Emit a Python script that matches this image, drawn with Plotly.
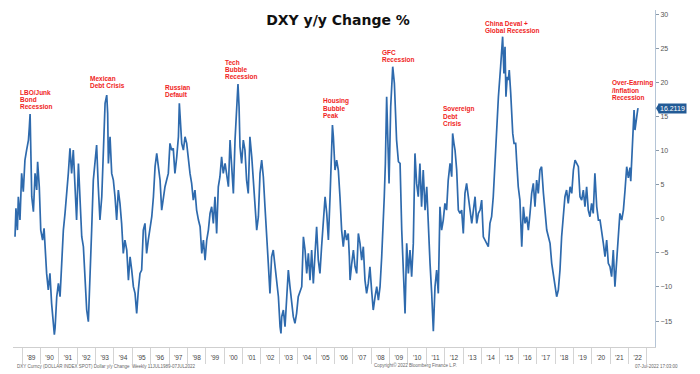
import plotly.graph_objects as go

# ---- data (decimal year, DXY y/y % change) ----
years = [
 1988.62,1988.67,1988.75,1988.80,1988.89,1988.98,1989.07,1989.16,1989.25,1989.35,1989.40,1989.44,
 1989.53,1989.62,1989.71,1989.80,1989.85,1989.94,1990.02,1990.12,1990.20,1990.25,1990.34,1990.43,
 1990.52,1990.61,1990.70,1990.76,1990.80,1990.89,1990.98,1991.07,1991.16,1991.25,1991.34,1991.43,
 1991.52,1991.61,1991.70,1991.79,1991.88,1991.97,1992.07,1992.16,1992.25,1992.34,1992.43,1992.52,
 1992.61,1992.70,1992.79,1992.88,1992.97,1993.06,1993.15,1993.24,1993.34,1993.43,1993.52,1993.61,
 1993.66,1993.70,1993.79,1993.88,1993.97,1994.06,1994.15,1994.24,1994.33,1994.42,1994.51,1994.60,
 1994.70,1994.79,1994.88,1994.97,1995.06,1995.15,1995.24,1995.33,1995.42,1995.51,1995.60,1995.69,
 1995.78,1995.87,1995.96,1996.06,1996.15,1996.24,1996.33,1996.42,1996.51,1996.60,1996.69,1996.78,
 1996.87,1996.96,1997.05,1997.14,1997.23,1997.32,1997.42,1997.51,1997.56,1997.61,1997.69,1997.78,
 1997.87,1997.96,1998.05,1998.14,1998.23,1998.32,1998.41,1998.50,1998.60,1998.69,1998.78,1998.87,
 1998.96,1999.05,1999.14,1999.23,1999.32,1999.41,1999.50,1999.59,1999.68,1999.77,1999.86,1999.95,
 2000.05,2000.14,2000.23,2000.32,2000.41,2000.50,2000.59,2000.68,2000.75,2000.81,2000.86,2000.95,
 2001.04,2001.13,2001.22,2001.31,2001.40,2001.50,2001.59,2001.68,2001.77,2001.86,2001.95,2002.04,
 2002.13,2002.22,2002.31,2002.40,2002.49,2002.58,2002.67,2002.76,2002.86,2002.95,2003.04,2003.09,
 2003.13,2003.22,2003.31,2003.40,2003.49,2003.58,2003.67,2003.76,2003.85,2003.94,2004.03,2004.13,
 2004.22,2004.31,2004.40,2004.49,2004.58,2004.67,2004.76,2004.85,2004.94,2005.03,2005.12,2005.21,
 2005.30,2005.40,2005.49,2005.58,2005.67,2005.76,2005.85,2005.89,2005.94,2006.03,2006.12,2006.21,
 2006.30,2006.39,2006.48,2006.57,2006.66,2006.75,2006.81,2006.85,2006.94,2007.03,2007.12,2007.21,
 2007.30,2007.39,2007.48,2007.57,2007.66,2007.75,2007.84,2007.93,2008.02,2008.11,2008.21,2008.30,
 2008.39,2008.48,2008.57,2008.66,2008.71,2008.77,2008.84,2008.91,2008.97,2009.06,2009.17,2009.26,
 2009.31,2009.38,2009.48,2009.57,2009.66,2009.75,2009.84,2009.93,2010.02,2010.11,2010.20,2010.29,
 2010.38,2010.47,2010.56,2010.65,2010.74,2010.83,2010.93,2011.02,2011.11,2011.20,2011.29,2011.38,
 2011.47,2011.56,2011.65,2011.74,2011.83,2011.92,2012.01,2012.10,2012.19,2012.29,2012.38,2012.43,
 2012.50,2012.56,2012.65,2012.74,2012.83,2012.92,2013.01,2013.10,2013.19,2013.28,2013.37,2013.47,
 2013.56,2013.65,2013.74,2013.83,2013.92,2014.01,2014.10,2014.19,2014.28,2014.37,2014.46,2014.55,
 2014.64,2014.73,2014.82,2014.92,2015.04,2015.15,2015.22,2015.28,2015.33,2015.40,2015.46,2015.51,
 2015.59,2015.70,2015.77,2015.86,2015.91,2016.00,2016.09,2016.19,2016.28,2016.37,2016.46,2016.55,
 2016.64,2016.73,2016.82,2016.91,2017.00,2017.09,2017.18,2017.27,2017.37,2017.46,2017.55,2017.64,
 2017.73,2017.82,2017.91,2018.00,2018.09,2018.18,2018.27,2018.36,2018.45,2018.54,2018.63,2018.72,
 2018.82,2018.91,2019.00,2019.09,2019.18,2019.27,2019.36,2019.45,2019.54,2019.63,2019.72,2019.81,
 2019.90,2019.99,2020.08,2020.17,2020.27,2020.36,2020.45,2020.54,2020.63,2020.72,2020.81,2020.90,
 2020.99,2021.08,2021.17,2021.26,2021.35,2021.44,2021.53,2021.63,2021.72,2021.81,2021.90,2021.99,
 2022.08,2022.12,2022.17,2022.22,2022.27,2022.30,2022.35,2022.40,2022.45,2022.50,2022.52,
]
yoy = [
 -2.64,1.52,-1.66,3.23,-0.19,6.65,3.96,8.60,10.07,11.53,13.49,15.35,
 3.23,1.03,6.65,4.21,8.36,4.69,-1.66,-3.12,-1.41,-4.10,-8.01,-10.45,
 -8.01,-12.41,-15.34,-17.00,-16.00,-11.43,-9.48,-11.43,-6.54,-1.66,0.79,3.23,
 6.65,10.31,6.65,10.07,5.67,-0.19,8.11,3.23,-2.64,-4.10,-8.50,-13.38,
 -15.09,-6.54,-1.66,5.67,8.11,10.80,4.69,-0.19,3.23,10.07,16.91,18.13,
 15.45,8.11,12.02,6.65,5.67,3.23,-0.19,4.21,2.25,-0.68,-5.08,-3.12,
 -4.59,-8.99,-5.57,-7.52,-9.96,-10.94,-13.87,-10.45,-8.01,-7.52,-1.66,-0.68,
 -5.08,-3.12,-1.66,0.30,3.23,7.63,9.58,7.63,5.67,1.27,3.23,4.69,
 5.67,6.65,11.05,10.07,10.31,6.65,9.09,12.02,16.91,14.96,11.05,10.07,
 12.02,11.05,8.60,6.65,5.18,2.74,4.21,1.27,-0.19,-1.17,-5.08,-3.12,
 -6.06,-3.12,-1.66,0.79,1.76,-0.68,3.23,-2.15,4.69,6.16,9.09,6.65,
 8.11,6.16,4.69,11.53,6.65,3.72,11.53,15.94,19.75,16.43,10.56,8.11,
 11.53,10.07,5.67,3.72,12.02,9.09,5.18,0.79,-1.66,0.30,6.65,8.60,
 6.16,1.76,-1.66,-6.54,-10.94,-5.57,-4.59,-6.54,-8.99,-11.43,-15.83,-16.80,
 -14.36,-13.38,-15.83,-12.41,-7.52,-9.96,-11.92,-14.36,-15.34,-13.87,-11.43,-10.45,
 -9.96,-2.64,-4.59,-8.01,-5.08,-8.99,-4.59,-9.48,-5.57,-1.17,-6.06,-8.01,
 -4.10,-0.68,3.23,0.79,-3.12,3.23,11.05,13.74,12.02,7.14,8.60,7.14,
 3.23,-1.66,-4.10,-1.66,-3.12,-2.15,-5.57,-8.99,-6.54,-4.59,-7.03,-8.01,
 -2.15,-3.61,-6.06,-4.10,-8.99,-10.94,-9.48,-7.03,-10.45,-13.38,-11.43,-9.96,
 -11.92,-9.96,-5.57,-1.17,3.23,8.11,17.89,11.05,5.18,16.43,22.29,19.85,
 15.94,11.53,8.36,8.11,-1.66,-8.50,-13.87,-3.61,-8.01,-4.59,-8.50,-3.61,
 9.58,5.18,3.23,8.11,1.76,7.14,1.27,4.69,-1.66,-6.54,-10.94,-16.50,
 -9.96,-7.52,-10.94,1.76,-1.66,-0.19,2.25,1.27,5.67,8.11,6.16,12.51,
 11.05,10.07,7.14,1.27,0.79,1.27,-2.15,3.72,5.18,3.23,0.79,-0.68,
 1.27,3.23,-0.68,0.79,1.27,2.74,-2.64,-3.12,-3.61,-4.10,-0.68,0.30,
 3.23,8.11,11.05,17.89,22.29,26.69,21.31,25.22,17.89,20.82,20.33,21.80,
 18.38,12.51,11.05,11.05,8.60,4.69,2.74,-4.10,1.76,-0.68,0.30,-1.66,
 0.79,3.72,5.18,1.76,5.67,3.72,7.14,7.63,3.72,0.79,-1.66,-2.64,
 -3.61,-6.54,-8.01,-9.96,-11.43,-10.45,-7.52,-2.64,-0.19,3.23,4.21,2.25,
 4.69,3.72,7.14,8.60,8.11,7.63,3.23,2.74,4.21,1.76,4.69,1.27,
 0.30,2.25,0.79,6.65,1.76,-0.19,-0.19,-1.66,-3.61,-5.57,-3.12,-6.54,
 -7.03,-8.50,-4.59,-9.96,-6.54,-1.66,0.79,-0.19,1.27,4.21,7.63,6.00,
 7.50,5.50,8.11,11.00,14.50,15.93,13.00,14.50,15.00,16.00,16.2119,
]
last_value_text = "16.2119"

year_starts = list(range(1989, 2024))
year_labels = ["'" + str(y)[2:] for y in range(1989, 2023)]

events = [
    (1988.78, 18.57, ["LBO/Junk", "Bond", "Recession"]),
    (1992.59, 20.62, ["Mexican", "Debt Crisis"]),
    (1996.67, 19.31, ["Russian", "Default"]),
    (1999.94, 22.97, ["Tech", "Bubble", "Recession"]),
    (2005.27, 17.25, ["Housing", "Bubble", "Peak"]),
    (2008.48, 24.44, ["GFC", "Recession"]),
    (2011.80, 16.08, ["Sovereign", "Debt", "Crisis"]),
    (2014.08, 28.69, ["China Deval +", "Global Recession"]),
    (2020.99, 19.89, ["Over-Earning", "/Inflation", "Recession"]),
]

# plot-area geometry (pixels) used to place footer texts in paper coords
L, R, T, B = 13, 655, 10, 347
def px(xp):
    return (xp - L) / (R - L)
def py(yp):
    return (B - yp) / (B - T)

fig = go.Figure()
fig.add_trace(go.Scatter(x=years, y=yoy, mode="lines",
                         line=dict(color="#2e6aad", width=1.7), showlegend=False))

annotations = []
for x0, y0, lines in events:
    for i, txt in enumerate(lines):
        annotations.append(dict(x=x0, y=y0, xref="x", yref="y", text="<b>" + txt + "</b>",
                                showarrow=False, xanchor="left", yanchor="middle",
                                yshift=-7 * i,
                                font=dict(family="Liberation Sans, Arial", size=6.5, color="#f01e23")))

annotations.append(dict(x=1, y=yoy[-1], xref="paper", yref="y", text=last_value_text,
                        showarrow=False, xanchor="left", yanchor="middle", xshift=3,
                        bgcolor="#235b96", borderpad=1,
                        font=dict(family="Liberation Sans, Arial", size=7, color="white")))

foot = dict(family="Liberation Sans, Arial", size=4.5, color="#666")
annotations.append(dict(x=px(15), y=py(366), xref="paper", yref="paper", showarrow=False,
                        xanchor="left", yanchor="middle",
                        text="DXY Curncy (DOLLAR INDEX SPOT) Dollar y/y Change  Weekly 11JUL1989-07JUL2022",
                        font=foot))
annotations.append(dict(x=px(372), y=py(365), xref="paper", yref="paper", showarrow=False,
                        xanchor="left", yanchor="middle",
                        text="Copyright\u00a9 2022 Bloomberg Finance L.P.", font=foot))
annotations.append(dict(x=px(680), y=py(366), xref="paper", yref="paper", showarrow=False,
                        xanchor="right", yanchor="middle",
                        text="07-Jul-2022 17:03:00", font=foot))

# small pointer on the last-value tag
fig.add_shape(type="path", xref="paper", yref="y", xsizemode="pixel", ysizemode="pixel",
              xanchor=1, yanchor=yoy[-1], path="M 1 0 L 4 5 L 4 -5 Z",
              fillcolor="#235b96", line=dict(width=0))

fig.update_layout(
    width=700, height=374,
    margin=dict(l=L, r=700 - R, t=T, b=374 - B, autoexpand=False),
    paper_bgcolor="white", plot_bgcolor="white",
    title=dict(text="<b>DXY y/y Change %</b>", x=338/700, y=1-20/374,
               xanchor="center", yanchor="middle",
               font=dict(family="DejaVu Sans", size=14, color="#111")),
    annotations=annotations,
    xaxis=dict(range=[1988.51, 2023.44], showgrid=False, zeroline=False, automargin=False,
               showline=True, linecolor="#cfcfcf", linewidth=1,
               tickmode="array", tickvals=[y + 0.5 for y in range(1989, 2023)],
               ticktext=year_labels, ticks="", ticklabelstandoff=4,
               tickfont=dict(family="Liberation Sans, Arial", size=6.5, color="#444"),
               minor=dict(tickmode="array", tickvals=year_starts, ticks="outside",
                          ticklen=16, tickcolor="#d4d4d4", tickwidth=1, showgrid=False)),
    yaxis=dict(side="right", range=[-18.8, 30.6], showgrid=False, zeroline=False, automargin=False,
               showline=True, linecolor="#b4c4d6", linewidth=1,
               tickmode="array", tickvals=[-15, -10, -5, 0, 5, 10, 15, 20, 25, 30],
               ticks="outside", ticklen=3, tickcolor="#8a9aaa",
               tickfont=dict(family="Liberation Sans, Arial", size=7, color="#555")),
)

fig.write_html("out.html", config={"displayModeBar": False},
               post_script="document.body.style.margin='0px';")
